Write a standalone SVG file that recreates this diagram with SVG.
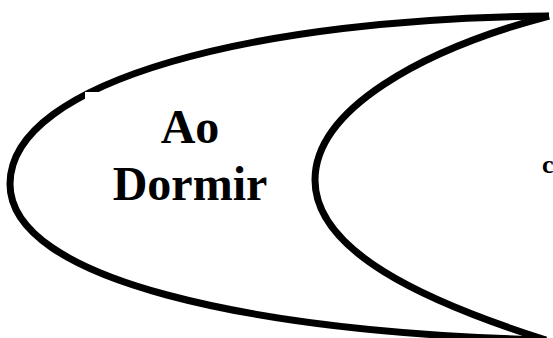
<svg xmlns="http://www.w3.org/2000/svg" width="553" height="338" viewBox="0 0 553 338">
<style>
.ln{fill:none;stroke:#000;stroke-width:7;stroke-linejoin:miter}
.t{font-family:"Liberation Serif","Times New Roman",serif;font-weight:bold;fill:#000}
</style>
<rect width="553" height="338" fill="#fff"/>
<g id="connectors">
<path class="ln" d="M549,16 C260,18 10,80 10,184 C10,280 250,332 546,340"/>
<path class="ln" d="M549,16 C420,50 315,110 315,180 C315,250 420,300 546,340"/>
</g>
<g id="node-ao-dormir">
<rect x="85" y="92" width="190" height="140" fill="#fff"/>
<text class="t" x="190" y="143" font-size="48" text-anchor="middle">Ao</text>
<text class="t" x="190" y="200" font-size="48" text-anchor="middle">Dormir</text>
</g>
<g id="node-right">
<text class="t" x="542" y="173" font-size="26">c</text>
</g>
</svg>
